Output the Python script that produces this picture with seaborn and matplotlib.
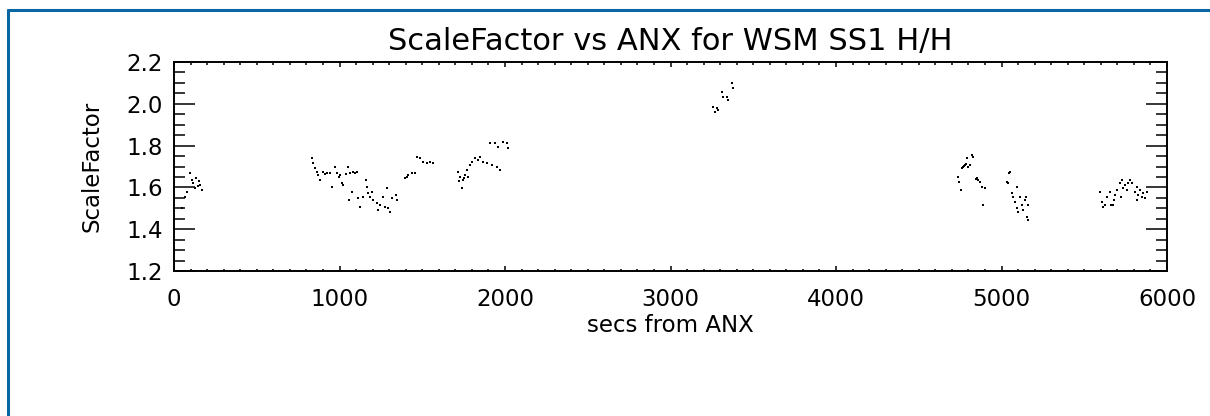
import matplotlib
matplotlib.use('Agg')
import matplotlib.pyplot as plt
from matplotlib.lines import Line2D
from matplotlib.ticker import MultipleLocator
import seaborn as sns
import pandas as pd

# scale factor samples, one list pair per pass
pass1_x = [48, 66, 79, 97, 109, 115, 127, 133, 145, 151, 157, 169]
pass1_y = [1.501, 1.554, 1.578, 1.669, 1.635, 1.621, 1.597, 1.645, 1.607, 1.631, 1.611, 1.588]

pass2_x = [834, 840, 852, 864, 870, 882, 900, 912, 924, 943, 955, 973, 985, 995, 1003,
           1015, 1021, 1040, 1051, 1057, 1063, 1075, 1082, 1094, 1106, 1112, 1124, 1142,
           1160, 1166, 1172, 1184, 1196, 1202, 1227, 1233, 1245, 1263, 1275, 1287, 1293,
           1305, 1317, 1341, 1345]
pass2_y = [1.741, 1.717, 1.693, 1.674, 1.659, 1.635, 1.674, 1.664, 1.669, 1.669, 1.602,
           1.698, 1.669, 1.650, 1.659, 1.621, 1.611, 1.664, 1.698, 1.540, 1.669, 1.578,
           1.674, 1.669, 1.674, 1.549, 1.506, 1.554, 1.635, 1.602, 1.573, 1.554, 1.578,
           1.540, 1.525, 1.492, 1.516, 1.554, 1.506, 1.597, 1.501, 1.482, 1.549, 1.564,
           1.540]

pass3_x = [1396, 1408, 1414, 1438, 1456, 1468, 1486, 1504, 1529, 1547, 1565]
pass3_y = [1.645, 1.650, 1.659, 1.669, 1.669, 1.745, 1.741, 1.722, 1.717, 1.722, 1.717]

pass4_x = [1716, 1722, 1728, 1740, 1746, 1752, 1758, 1770, 1776, 1788, 1800, 1819, 1837,
           1849, 1867, 1891, 1909, 1921, 1939, 1951, 1958, 1970, 1988, 2012, 2018]
pass4_y = [1.674, 1.630, 1.650, 1.597, 1.635, 1.645, 1.659, 1.683, 1.650, 1.707, 1.722,
           1.741, 1.731, 1.745, 1.722, 1.717, 1.812, 1.707, 1.812, 1.698, 1.793, 1.683,
           1.817, 1.812, 1.789]

pass5_x = [3257, 3269, 3281, 3287, 3311, 3317, 3341, 3347, 3372, 3378]
pass5_y = [1.985, 1.961, 1.980, 1.970, 2.056, 2.033, 2.033, 2.018, 2.100, 2.076]

pass6_x = [4737, 4743, 4755, 4761, 4767, 4773, 4779, 4785, 4791, 4797, 4809, 4822, 4828,
           4846, 4852, 4858, 4870, 4882, 4888, 4900]
pass6_y = [1.650, 1.626, 1.588, 1.693, 1.698, 1.702, 1.707, 1.712, 1.741, 1.698, 1.707,
           1.755, 1.745, 1.640, 1.645, 1.635, 1.626, 1.602, 1.516, 1.597]

pass7_x = [5033, 5039, 5045, 5051, 5063, 5069, 5081, 5093, 5095, 5099, 5111, 5124, 5130,
           5142, 5148, 5154, 5160, 5162]
pass7_y = [1.626, 1.621, 1.669, 1.674, 1.573, 1.554, 1.530, 1.501, 1.602, 1.482, 1.554,
           1.516, 1.492, 1.540, 1.554, 1.458, 1.444, 1.516]

pass8_x = [5595, 5607, 5613, 5625, 5637, 5655, 5659, 5673, 5677, 5686, 5698, 5716, 5720,
           5728, 5734, 5746, 5758, 5764, 5776, 5788, 5806, 5818, 5821, 5824, 5837, 5849,
           5855, 5867, 5879]
pass8_y = [1.578, 1.530, 1.506, 1.516, 1.554, 1.578, 1.516, 1.516, 1.540, 1.564, 1.588,
           1.621, 1.554, 1.635, 1.597, 1.611, 1.588, 1.621, 1.635, 1.621, 1.578, 1.602,
           1.540, 1.564, 1.588, 1.554, 1.573, 1.549, 1.578]

title = 'ScaleFactor vs ANX for WSM SS1 H/H'
xlabel = 'secs from ANX'
ylabel = 'ScaleFactor'

all_x = pass1_x + pass2_x + pass3_x + pass4_x + pass5_x + pass6_x + pass7_x + pass8_x
all_y = pass1_y + pass2_y + pass3_y + pass4_y + pass5_y + pass6_y + pass7_y + pass8_y
df = pd.DataFrame({'secs': all_x, 'scale': all_y})

sns.set_style('white')
plt.rcParams['font.family'] = ['DejaVu Sans']
plt.rcParams['text.color'] = 'black'

fig = plt.figure(figsize=(12.1, 4.16), dpi=100)
ax = fig.add_axes([174 / 1210, 1 - 271 / 416, 993 / 1210, 209 / 416])

sns.scatterplot(data=df, x='secs', y='scale', ax=ax, color='black', marker='s',
                s=3, linewidth=0)

ax.set_xlim(0, 6000)
ax.set_ylim(1.2, 2.2)
ax.xaxis.set_major_locator(MultipleLocator(1000))
ax.xaxis.set_minor_locator(MultipleLocator(100))
ax.yaxis.set_major_locator(MultipleLocator(0.2))
ax.yaxis.set_minor_locator(MultipleLocator(0.05))
ax.yaxis.set_major_formatter(matplotlib.ticker.FormatStrFormatter('%.1f'))

# IDL style ticks: inside, on every side, long on y and short on x
ax.tick_params(axis='both', which='both', direction='in', top=True, right=True,
               bottom=True, left=True, colors='black', width=1.1)
ax.tick_params(axis='y', which='major', length=15, labelsize=16.5, pad=8)
ax.tick_params(axis='y', which='minor', length=8)
ax.tick_params(axis='x', which='major', length=3.5, labelsize=16.5, pad=12)
ax.tick_params(axis='x', which='minor', length=1.8)
for sp in ax.spines.values():
    sp.set_linewidth(1.4)
    sp.set_color('black')

ax.set_xlabel('')
ax.set_ylabel('')
fig.text(670 / 1210, 1 - 50 / 416, title, ha='center', va='baseline', fontsize=22)
fig.text(670 / 1210, 1 - 332 / 416, xlabel, ha='center', va='baseline', fontsize=16.5)
fig.text(92 / 1210, 1 - 166 / 416, ylabel, ha='center', va='center', rotation=90,
         fontsize=16.5)

# blue frame around the page
frame_col = '#0a66a2'
fig.add_artist(Line2D([8 / 1210, 1], [1 - 10 / 416, 1 - 10 / 416],
                      transform=fig.transFigure, color=frame_col, linewidth=2.2))
fig.add_artist(Line2D([8 / 1210, 8 / 1210], [0, 1 - 10 / 416],
                      transform=fig.transFigure, color=frame_col, linewidth=2.2))

fig.savefig('out.png', dpi=100)
